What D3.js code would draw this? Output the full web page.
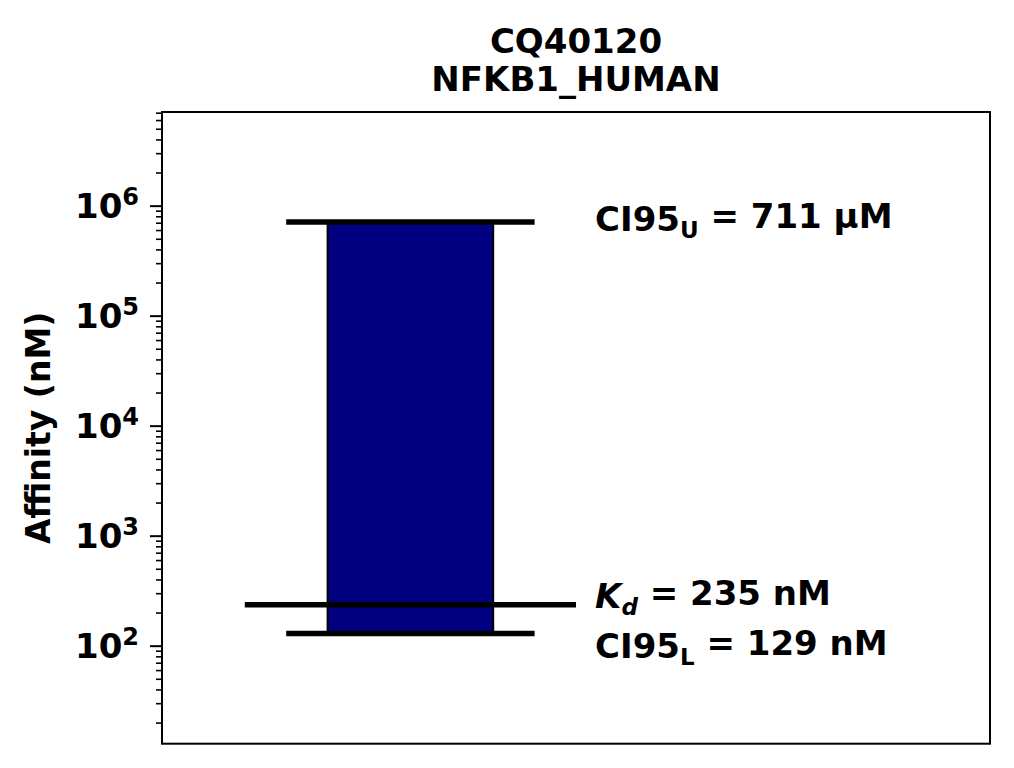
<!DOCTYPE html>
<html>
<head>
<meta charset="utf-8">
<script src="https://cdn.jsdelivr.net/npm/d3@7.9.0/dist/d3.min.js"></script>
<style>
  body { margin: 0; background: #fff; }
  text { font-family: "DejaVu Sans", sans-serif; font-weight: bold; fill: #000; }
</style>
</head>
<body>
<svg id="chart" width="1014" height="768"></svg>
<script>
// data
const titleLines = ["CQ40120", "NFKB1_HUMAN"];
const kdValue = 235;          // nM
const ciLowerValue = 129;     // nM
const ciUpperValue = 711000;  // nM
const yDomain = [12.85, 7.1e6];
const majorTicks = [1e2, 1e3, 1e4, 1e5, 1e6];
const tickExponents = ["2", "3", "4", "5", "6"];

const width = 1014, height = 768;
const margin = { top: 112, right: 24, bottom: 24, left: 162 };
const plotW = width - margin.left - margin.right;
const plotH = 743.7 - margin.top;

const svg = d3.select("#chart");

const x = d3.scaleLinear().domain([0, 1]).range([margin.left, margin.left + plotW]);
const y = d3.scaleLog().domain(yDomain).range([margin.top + plotH, margin.top]);

// minor ticks 2..9 x 10^k inside the domain
const minorTicks = [];
for (let e = 1; e <= 6; e++) {
  for (let m = 2; m <= 9; m++) {
    const v = m * Math.pow(10, e);
    if (v >= yDomain[0] && v <= yDomain[1]) minorTicks.push(v);
  }
}

// bar from lower to upper CI
svg.append("rect")
  .attr("x", x(0.2))
  .attr("width", x(0.4) - x(0.2))
  .attr("y", y(ciUpperValue))
  .attr("height", y(ciLowerValue) - y(ciUpperValue))
  .attr("fill", "#000080")
  .attr("stroke", "#000")
  .attr("stroke-width", 2);

// horizontal lines
const hlines = [
  { v: ciUpperValue, x0: 0.15, x1: 0.45 },
  { v: ciLowerValue, x0: 0.15, x1: 0.45 },
  { v: kdValue, x0: 0.1, x1: 0.5 }
];
svg.append("g").selectAll("line")
  .data(hlines)
  .enter().append("line")
  .attr("x1", d => x(d.x0))
  .attr("x2", d => x(d.x1))
  .attr("y1", d => y(d.v))
  .attr("y2", d => y(d.v))
  .attr("stroke", "#000")
  .attr("stroke-width", 5.5);

// frame
svg.append("rect")
  .attr("x", margin.left)
  .attr("y", margin.top)
  .attr("width", plotW)
  .attr("height", plotH)
  .attr("fill", "none")
  .attr("stroke", "#000")
  .attr("stroke-width", 2);

// y axis
const yAxis = d3.axisLeft(y)
  .tickValues(majorTicks)
  .tickSize(12)
  .tickFormat("");
const gAxis = svg.append("g")
  .attr("transform", `translate(${margin.left},0)`)
  .call(yAxis);
gAxis.select(".domain").remove();
gAxis.selectAll(".tick line").attr("stroke-width", 2);

gAxis.selectAll(".tick").each(function(d, i) {
  const t = d3.select(this).append("text")
    .attr("x", -23)
    .attr("dy", "0.36em")
    .attr("text-anchor", "end")
    .style("font-size", "34px");
  t.append("tspan").text("10");
  t.append("tspan")
    .attr("dy", "-0.55em")
    .style("font-size", "24px")
    .text(tickExponents[i]);
});

svg.append("g")
  .attr("transform", `translate(${margin.left},0)`)
  .call(d3.axisLeft(y).tickValues(minorTicks).tickSize(6).tickFormat(""))
  .call(g => g.select(".domain").remove())
  .selectAll(".tick line").attr("stroke-width", 1.6);

// axis label
svg.append("text")
  .attr("transform", `translate(50,${margin.top + plotH / 2}) rotate(-90)`)
  .attr("text-anchor", "middle")
  .style("font-size", "33px")
  .text("Affinity (nM)");

// title
svg.append("g").selectAll("text")
  .data(titleLines)
  .enter().append("text")
  .attr("x", margin.left + plotW / 2)
  .attr("y", (d, i) => 53 + i * 38)
  .attr("text-anchor", "middle")
  .style("font-size", "34px")
  .text(d => d);

// annotations
const labelX = x(0.523);
const fs = "34px";
const subFs = "23px";

const tU = svg.append("text")
  .attr("x", labelX)
  .attr("y", y(ciUpperValue) + 9)
  .style("font-size", fs);
tU.append("tspan").text("CI95");
tU.append("tspan").attr("dy", "0.3em").style("font-size", subFs).text("U");
tU.append("tspan").attr("dy", "-0.3em").text(" = 711 μM");

const tK = svg.append("text")
  .attr("x", labelX)
  .attr("y", y(kdValue) + 3)
  .style("font-size", fs);
tK.append("tspan").style("font-style", "italic").text("K");
tK.append("tspan").attr("dy", "0.3em").style("font-style", "italic").style("font-size", subFs).text("d");
tK.append("tspan").attr("dy", "-0.3em").text(" = 235 nM");

const tL = svg.append("text")
  .attr("x", labelX)
  .attr("y", y(ciLowerValue) + 24.5)
  .style("font-size", fs);
tL.append("tspan").text("CI95");
tL.append("tspan").attr("dy", "0.3em").style("font-size", subFs).text("L");
tL.append("tspan").attr("dy", "-0.3em").text(" = 129 nM");
</script>
</body>
</html>
